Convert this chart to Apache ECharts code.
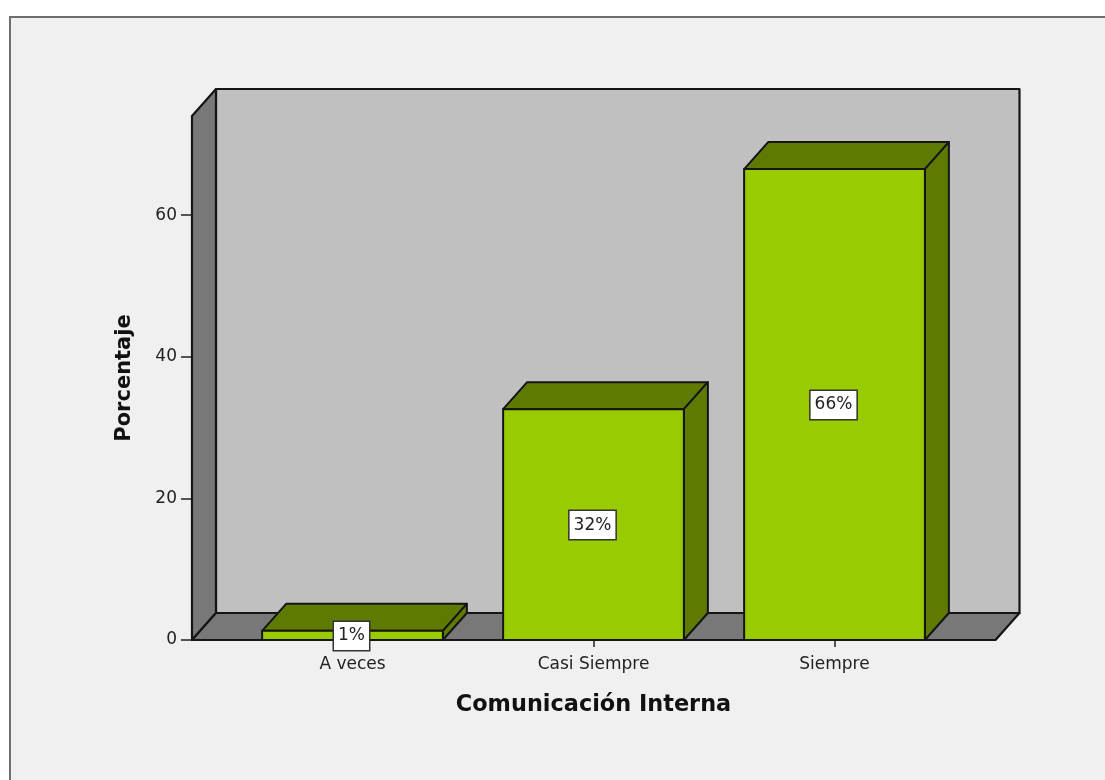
<!DOCTYPE html>
<html>
<head>
<meta charset="utf-8">
<style>html,body{margin:0;padding:0;background:#fff}#c{width:1105px;height:780px}</style>
<script src="https://cdn.jsdelivr.net/npm/echarts@6/dist/echarts.min.js"></script>
</head>
<body>
<div id="c"></div>
<script>
const categories = ['A veces', 'Casi Siempre', 'Siempre'];
const percentages = [1.3, 32.6, 66.5];
const barLabels = ['1%', '32%', '66%'];
const yTicks = [0, 20, 40, 60];
const xTitle = 'Comunicación Interna';
const yTitle = 'Porcentaje';
const yMax = 74;

const DX = 24, DY = 27, EDGE = '#151515';
const FONT = '"DejaVu Sans", Verdana, sans-serif';
const chart = echarts.init(document.getElementById('c'), null, {renderer: 'canvas'});

function poly(points, fill, lw) {
  return {type: 'polygon', shape: {points}, style: {fill, stroke: EDGE, lineWidth: lw, lineJoin: 'round'}};
}

function renderFrame(params, api) {
  const band = api.size([1, 0])[0];
  const o = api.coord([0, 0]);
  const top = api.coord([0, yMax])[1];
  const x0 = o[0] - band * 0.666;
  const x1 = api.coord([categories.length - 1, 0])[0] + band * 0.668;
  const y0 = o[1];
  return {type: 'group', children: [
    poly([[x0 + DX, top - DY], [x1 + DX, top - DY], [x1 + DX, y0 - DY], [x0 + DX, y0 - DY]], '#c0c0c0', 2.2),
    poly([[x0, y0], [x0 + DX, y0 - DY], [x0 + DX, top - DY], [x0, top]], '#787878', 2.2),
    poly([[x0, y0], [x1, y0], [x1 + DX, y0 - DY], [x0 + DX, y0 - DY]], '#787878', 2.2)
  ]};
}

function renderBar(params, api) {
  const i = api.value(0), v = api.value(1);
  const w = api.size([1, 0])[0] * 0.75;
  const b = api.coord([i, 0]), t = api.coord([i, v]);
  const l = b[0] - w / 2, r = b[0] + w / 2;
  return {type: 'group', children: [
    poly([[l, t[1]], [l + DX, t[1] - DY], [r + DX, t[1] - DY], [r, t[1]]], '#5f7a00', 2),
    poly([[r, t[1]], [r + DX, t[1] - DY], [r + DX, b[1] - DY], [r, b[1]]], '#5f7a00', 2),
    poly([[l, b[1]], [l, t[1]], [r, t[1]], [r, b[1]]], '#99cc00', 2),
    {type: 'text', style: {
      x: b[0] - 1, y: (b[1] + t[1]) / 2 + 0.5,
      text: barLabels[i], align: 'center', verticalAlign: 'middle',
      fontFamily: FONT, fontSize: 17, fill: '#222',
      backgroundColor: '#fff', borderColor: '#333', borderWidth: 1.5,
      padding: [6, 4, 5, 4]
    }}
  ]};
}

chart.setOption({
  animation: false,
  backgroundColor: '#fff',
  graphic: [{type: 'rect', z: -10, shape: {x: 10, y: 17, width: 1200, height: 900},
    style: {fill: '#f0f0f0', stroke: '#6e6e6e', lineWidth: 2}}],
  grid: {left: 232, width: 723, top: 116, height: 524},
  xAxis: {
    type: 'category', data: categories,
    name: xTitle, nameLocation: 'middle', nameGap: 54,
    nameTextStyle: {fontFamily: FONT, fontWeight: 'bold', fontSize: 22.4, color: '#111'},
    axisLine: {show: false},
    axisTick: {show: true, alignWithLabel: true, length: 7, lineStyle: {color: '#222', width: 1.5}},
    axisLabel: {margin: 16, fontFamily: FONT, fontSize: 17, color: '#222'}
  },
  yAxis: {
    type: 'value', min: 0, max: yMax, offset: 40,
    name: yTitle, nameLocation: 'middle', nameGap: 57, nameRotate: 90,
    nameTextStyle: {fontFamily: FONT, fontWeight: 'bold', fontSize: 21, color: '#111'},
    splitLine: {show: false},
    axisLine: {show: true, lineStyle: {color: '#222', width: 1.5}},
    axisTick: {show: true, length: 11, customValues: yTicks, lineStyle: {color: '#222', width: 1.5}},
    axisLabel: {margin: 15, customValues: yTicks, fontFamily: FONT, fontSize: 17, color: '#222'}
  },
  series: [
    {type: 'custom', z: 1, clip: false, silent: true, renderItem: renderFrame, data: [[0, 0]],
     encode: {x: 0, y: 1}},
    {type: 'custom', z: 3, clip: false, renderItem: renderBar,
     data: percentages.map((v, i) => [i, v]), encode: {x: 0, y: 1}}
  ]
});
</script>
</body>
</html>
